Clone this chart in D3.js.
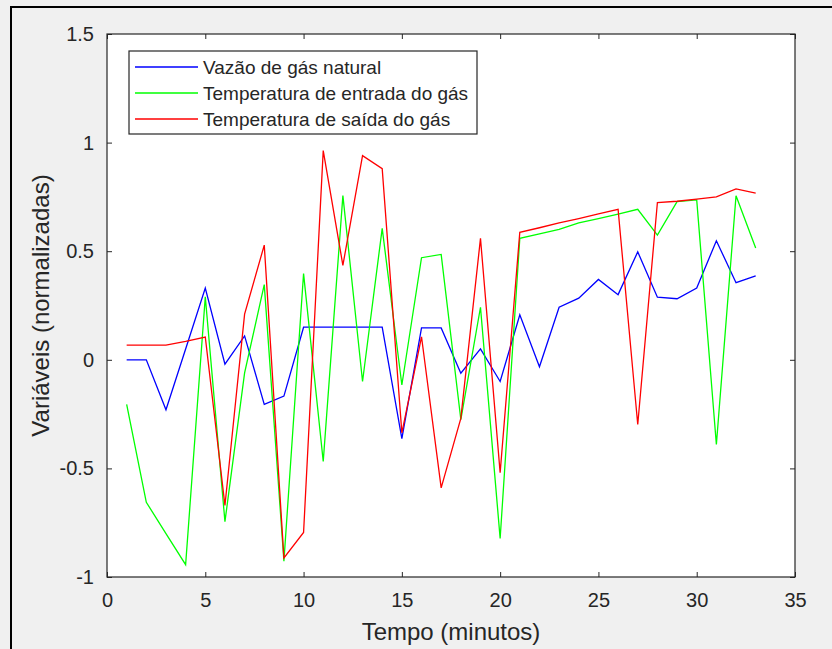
<!DOCTYPE html>
<html>
<head>
<meta charset="utf-8">
<script src="https://cdn.jsdelivr.net/npm/d3@7"></script>
<style>
  html, body { margin: 0; padding: 0; background: #f0f0f0; }
  svg { display: block; font-family: "Liberation Sans", Arial, Helvetica, sans-serif; }
</style>
</head>
<body>
<svg id="chart"></svg>
<script>
// tempo (minutos)
const tempo = [1, 2, 3, 4, 5, 6, 7, 8, 9, 10, 11, 12, 13, 14, 15, 16, 17, 18, 19, 20,
  21, 22, 23, 24, 25, 26, 27, 28, 29, 30, 31, 32, 33]

const vazao = [0, 0, -0.23, 0.05, 0.33, -0.02, 0.11, -0.205, -0.167, 0.15, 0.15, 0.15, 0.15, 0.15,
  -0.363, 0.147, 0.147, -0.062, 0.05, -0.10, 0.207, -0.032, 0.242, 0.284, 0.37, 0.30, 0.497,
  0.288, 0.281, 0.33, 0.548, 0.355, 0.386]

const entrada = [-0.205, -0.656, -0.80, -0.943, 0.29, -0.745, -0.06, 0.346, -0.927, 0.397, -0.468,
  0.756, -0.10, 0.605, -0.116, 0.47, 0.485, -0.275, 0.242, -0.823, 0.559, 0.58, 0.60, 0.63, 0.65,
  0.671, 0.693, 0.574, 0.728, 0.736, -0.39, 0.755, 0.515]

const saida = [0.068, 0.068, 0.068, 0.085, 0.105, -0.671, 0.21, 0.528, -0.912, -0.795, 0.963, 0.435,
  0.94, 0.88, -0.336, 0.106, -0.59, -0.27, 0.559, -0.52, 0.587, 0.608, 0.63, 0.65, 0.672, 0.693,
  -0.298, 0.724, 0.73, 0.74, 0.75, 0.787, 0.767]

const seriesNames = ['Vazão de gás natural', 'Temperatura de entrada do gás', 'Temperatura de saída do gás']
const seriesColors = ['#0000ff', '#00ff00', '#ff0000']
const xTicks = [0, 5, 10, 15, 20, 25, 30, 35]
const yTicks = [-1, -0.5, 0, 0.5, 1, 1.5]

const W = 832, H = 649
const pLeft = 107, pRight = 795, pTop = 34, pBottom = 577
const axisColor = '#262626'

const svg = d3.select('#chart').attr('width', W).attr('height', H)

// figure frame (cropped screenshot: only top and left edges visible)
svg.append('path')
  .attr('d', `M11,${H} L11,7 L${W},7`)
  .attr('fill', 'none').attr('stroke', '#000').attr('stroke-width', 2)

const x = d3.scaleLinear().domain([0, 35]).range([pLeft, pRight])
const y = d3.scaleLinear().domain([-1, 1.5]).range([pBottom, pTop])

svg.append('rect')
  .attr('x', pLeft).attr('y', pTop)
  .attr('width', pRight - pLeft).attr('height', pBottom - pTop)
  .attr('fill', '#fff')

// lines
const line = d3.line().x((d, i) => x(tempo[i])).y(d => y(d))
const data = [vazao, entrada, saida]
const lg = svg.append('g')
data.forEach((s, k) => {
  lg.append('path')
    .datum(s)
    .attr('d', line)
    .attr('fill', 'none')
    .attr('stroke', seriesColors[k])
    .attr('stroke-width', 1.3)
    .attr('stroke-linejoin', 'miter')
})

// axes, ticks pointing inward like matlab
function styleAxis(g) {
  g.select('.domain').remove()
  g.selectAll('line').attr('stroke', axisColor)
  g.selectAll('text').attr('fill', axisColor).style('font-size', '20px')
    .attr('font-family', '"Liberation Sans", Arial, sans-serif')
}
// plain hyphen minus like matlab
const fmt = d => String(d)

svg.append('g')
  .attr('transform', `translate(0,${pBottom})`)
  .call(d3.axisBottom(x).tickValues(xTicks).tickSize(-5).tickPadding(16).tickFormat(fmt))
  .call(styleAxis)

svg.append('g')
  .attr('transform', `translate(0,${pTop})`)
  .call(d3.axisTop(x).tickValues(xTicks).tickSize(-5).tickFormat(''))
  .call(styleAxis)

svg.append('g')
  .attr('transform', `translate(${pLeft},0)`)
  .call(d3.axisLeft(y).tickValues(yTicks).tickSize(-5).tickPadding(13).tickFormat(fmt))
  .call(styleAxis)

svg.append('g')
  .attr('transform', `translate(${pRight},0)`)
  .call(d3.axisRight(y).tickValues(yTicks).tickSize(-5).tickFormat(''))
  .call(styleAxis)

svg.append('rect')
  .attr('x', pLeft).attr('y', pTop)
  .attr('width', pRight - pLeft).attr('height', pBottom - pTop)
  .attr('fill', 'none').attr('stroke', axisColor).attr('stroke-width', 1.2)

// axis labels
svg.append('text')
  .attr('x', (pLeft + pRight) / 2).attr('y', 640)
  .attr('text-anchor', 'middle')
  .attr('fill', axisColor)
  .style('font-size', '24px')
  .text('Tempo (minutos)')

svg.append('text')
  .attr('transform', `translate(49,${(pTop + pBottom) / 2}) rotate(-90)`)
  .attr('text-anchor', 'middle')
  .attr('fill', axisColor)
  .style('font-size', '24px')
  .text('Variáveis (normalizadas)')

// legend
const legend = svg.append('g')
legend.append('rect')
  .attr('x', 129).attr('y', 51).attr('width', 348).attr('height', 83)
  .attr('fill', '#fff').attr('stroke', axisColor).attr('stroke-width', 1.2)

seriesNames.forEach((name, k) => {
  const ly = 67 + k * 26
  legend.append('line')
    .attr('x1', 135).attr('x2', 198).attr('y1', ly).attr('y2', ly)
    .attr('stroke', seriesColors[k]).attr('stroke-width', 1.3)
  legend.append('text')
    .attr('x', 203).attr('y', ly + 7)
    .attr('fill', axisColor)
    .style('font-size', '19px')
    .text(name)
})
</script>
</body>
</html>
